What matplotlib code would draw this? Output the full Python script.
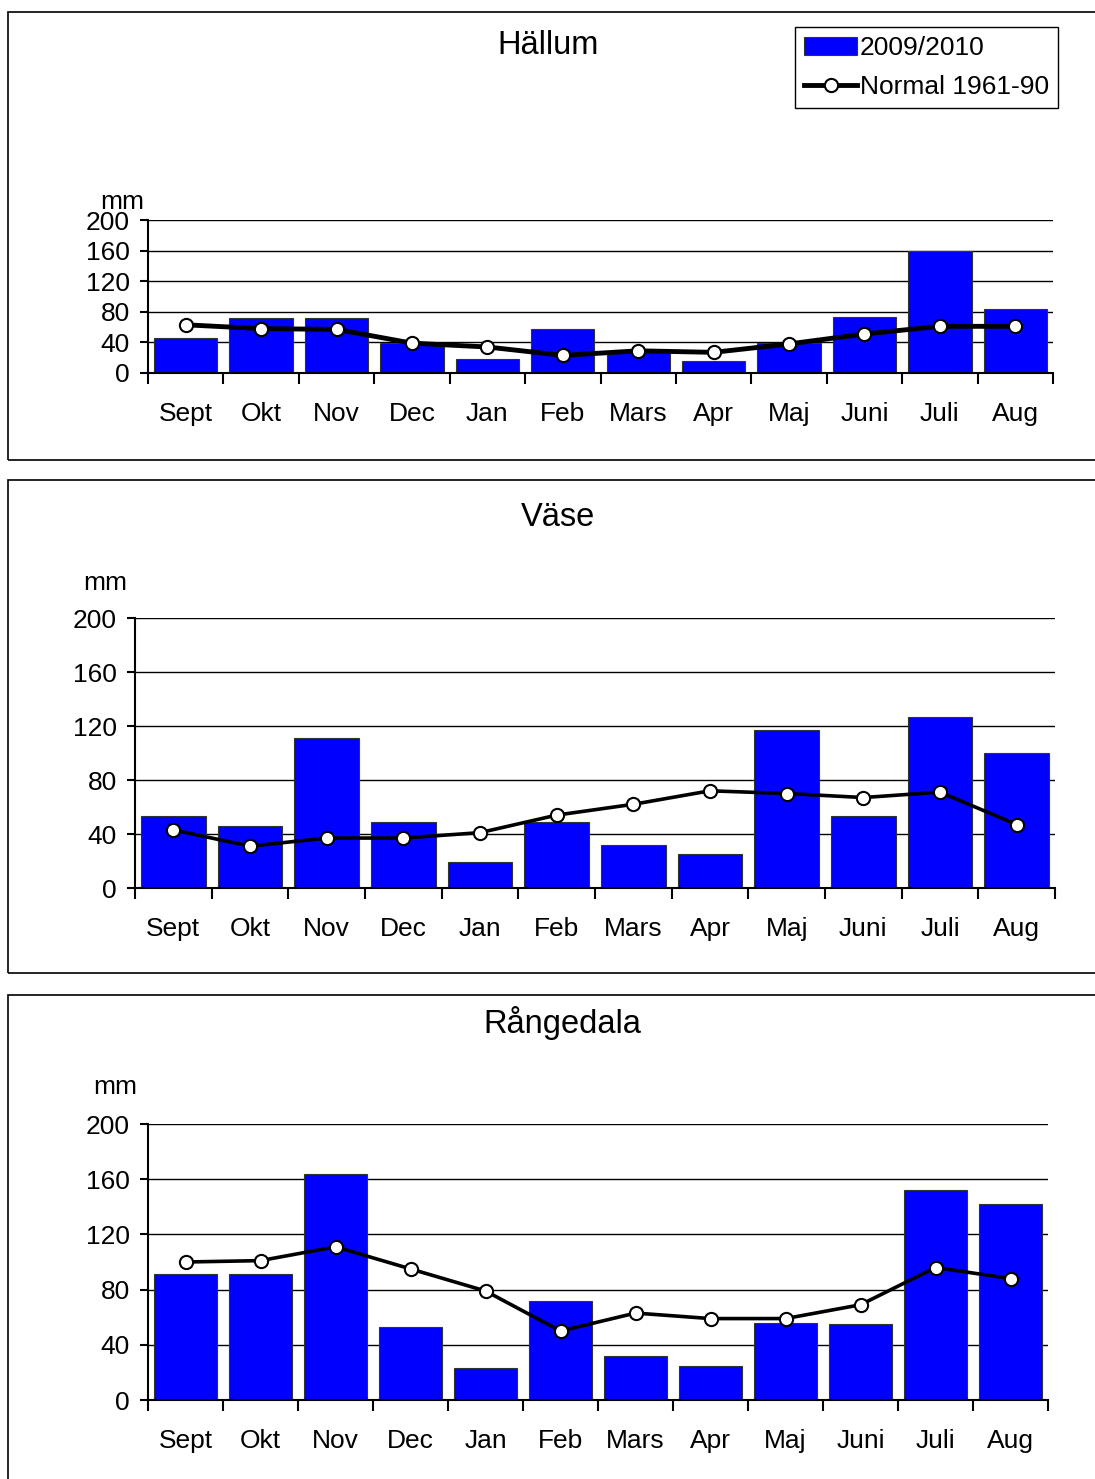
import matplotlib
matplotlib.use('Agg')
import matplotlib.pyplot as plt
from matplotlib.patches import Rectangle
import numpy as np

plt.rcParams['font.family'] = ['Liberation Sans', 'DejaVu Sans']

months = ['Sept', 'Okt', 'Nov', 'Dec', 'Jan', 'Feb', 'Mars', 'Apr', 'Maj', 'Juni', 'Juli', 'Aug']

# nederbörd 2009/2010 och normal 1961-90 (mm)
hallum_2009 = [46, 72, 72, 39, 18, 58, 27, 16, 39, 73, 159, 84]
hallum_normal = [63, 58, 57, 39, 34, 23, 29, 27, 38, 51, 61, 61]

vase_2009 = [53, 46, 111, 49, 19, 49, 32, 25, 117, 53, 127, 100]
vase_normal = [43, 31, 37, 37, 41, 54, 62, 72, 70, 67, 71, 47]

rangedala_2009 = [91, 91, 164, 53, 23, 72, 32, 25, 56, 55, 152, 142]
rangedala_normal = [100, 101, 111, 95, 79, 50, 63, 59, 59, 69, 96, 88]

W, H = 1095, 1479
FS = 19
fig = plt.figure(figsize=(W / 100, H / 100), dpi=100)


def px_axes(l, t, r, b):
    return fig.add_axes([l / W, 1 - b / H, (r - l) / W, (b - t) / H])


def px_box(l, t, r, b):
    fig.patches.append(Rectangle((l / W, 1 - b / H), (r - l) / W, (b - t) / H,
                                 transform=fig.transFigure, fill=False,
                                 edgecolor='black', linewidth=1.2))


def panel(ax, bars, normal, lw):
    x = np.arange(len(months))
    b = ax.bar(x, bars, width=0.84, color='#0000FF', edgecolor='#333333',
               linewidth=0.8, zorder=2)
    l, = ax.plot(x, normal, color='black', linewidth=lw, marker='o',
                 markersize=9.5, markerfacecolor='white', markeredgecolor='black',
                 markeredgewidth=1.5, zorder=3)
    ax.set_xlim(-0.5, 11.5)
    ax.set_ylim(0, 200)
    ax.set_yticks([0, 40, 80, 120, 160, 200])
    ax.yaxis.grid(True, color='black', linewidth=1)
    ax.set_axisbelow(True)
    for s in ['top', 'right']:
        ax.spines[s].set_visible(False)
    ax.spines['left'].set_linewidth(1.5)
    ax.spines['bottom'].set_linewidth(1.5)
    # tick marks between months, labels centred on the bars
    ax.set_xticks(np.arange(-0.5, 12, 1))
    ax.set_xticklabels([])
    ax.set_xticks(x, minor=True)
    ax.set_xticklabels(months, minor=True)
    ax.tick_params(axis='x', which='major', direction='out', length=8, width=1.5)
    ax.tick_params(axis='x', which='minor', length=0, labelsize=FS, pad=21)
    ax.tick_params(axis='y', direction='out', length=6, width=1.5, labelsize=FS, pad=7)
    return b, l


# Hällum
px_box(8, 12, 1100, 460)
ax1 = px_axes(148, 220, 1053, 373)
b, l = panel(ax1, hallum_2009, hallum_normal, 3.5)
fig.text(548 / W, 1 - 45 / H, 'Hällum', ha='center', va='center', fontsize=23.5)
fig.text(122 / W, 1 - 202 / H, 'mm', ha='center', va='center', fontsize=FS)
fig.legend([b, l], ['2009/2010', 'Normal 1961-90'], loc='upper right',
           bbox_to_anchor=(1058 / W, 1 - 27 / H), borderaxespad=0,
           fontsize=FS, fancybox=False, edgecolor='black', framealpha=1,
           handlelength=2.0, handletextpad=0.1, borderpad=0.35, labelspacing=0.55)

# Väse
px_box(8, 480, 1100, 973)
ax2 = px_axes(135, 618, 1055, 888)
panel(ax2, vase_2009, vase_normal, 2.6)
fig.text(558 / W, 1 - 517 / H, 'Väse', ha='center', va='center', fontsize=23.5)
fig.text(105 / W, 1 - 583 / H, 'mm', ha='center', va='center', fontsize=FS)

# Rångedala
px_box(8, 995, 1100, 1500)
ax3 = px_axes(148, 1124, 1048, 1400)
panel(ax3, rangedala_2009, rangedala_normal, 2.6)
fig.text(562 / W, 1 - 1023 / H, 'Rångedala', ha='center', va='center', fontsize=23.5)
fig.text(115 / W, 1 - 1087 / H, 'mm', ha='center', va='center', fontsize=FS)

fig.savefig('out.png', dpi=100)
